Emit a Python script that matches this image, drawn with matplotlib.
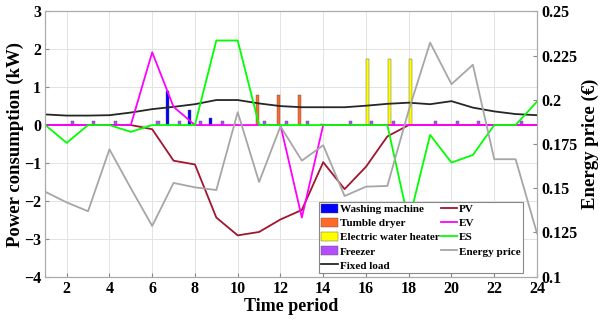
import matplotlib
matplotlib.use("Agg")
import matplotlib.pyplot as plt
import numpy as np
from matplotlib.patches import Patch
from matplotlib.lines import Line2D
from matplotlib.ticker import FuncFormatter

plt.rcParams['font.family'] = ['Liberation Serif', 'DejaVu Serif']
plt.rcParams['font.weight'] = 'bold'

hours = list(range(1, 25))

washing = [0, 0, 0, 0, 0, 0, 0.91, 0.40, 0.19, 0, 0, 0, 0, 0, 0, 0, 0, 0, 0, 0, 0, 0, 0, 0]
dryer = [0, 0, 0, 0, 0, 0, 0, 0, 0, 0.03, 0.79, 0.79, 0.79, 0.02, 0, 0, 0, 0, 0, 0, 0, 0, 0, 0]
heater = [0, 0, 0, 0, 0, 0, 0, 0, 0, 0, 0, 0, 0, 0, 0, 1.75, 1.75, 1.75, 0, 0, 0, 0, 0, 0]
freezer = [0, 0.1, 0.1, 0.1, 0, 0.1, 0.1, 0.1, 0.1, 0, 0.1, 0.1, 0.1, 0, 0.1, 0.1, 0.1, 0, 0.1, 0.1, 0.1, 0, 0.1, 0]
fixed_load = [0.28, 0.25, 0.25, 0.26, 0.33, 0.42, 0.48, 0.55, 0.66, 0.66, 0.57, 0.50,
              0.47, 0.47, 0.47, 0.51, 0.56, 0.59, 0.55, 0.63, 0.46, 0.36, 0.29, 0.26]
pv = [0, 0, 0, 0, 0, -0.11, -0.94, -1.04, -2.44, -2.91, -2.82, -2.49,
      -2.24, -0.98, -1.69, -1.10, -0.30, 0, 0, 0, 0, 0, 0, 0]
ev = [0, 0, 0, 0, 0, 1.92, 0.48, 0, 0, 0, 0, 0, -2.44, 0, 0, 0, 0, 0, 0, 0, 0, 0, 0, 0]
es = [0, -0.47, 0, 0, -0.18, 0, 0, 0, 2.23, 2.23, 0, 0, 0, 0, 0, 0, 0, -2.55,
      -0.26, -0.99, -0.79, 0, 0, 0.62]
price = [0.148, 0.142, 0.137, 0.172, 0.150, 0.1287, 0.153, 0.1505, 0.149, 0.193, 0.1535, 0.185,
         0.1656, 0.1743, 0.1456, 0.1509, 0.1513, 0.194, 0.2323, 0.2088, 0.2198, 0.1664, 0.1664, 0.1245]

c_wash = '#0000FF'
c_dry = '#FF6A2A'
c_heat = '#FFFF00'
c_frz = '#B44CFF'
c_fix = '#262626'
c_pv = '#A2142F'
c_ev = '#FF00FF'
c_es = '#00FF00'
c_price = '#A6A6A6'

fig = plt.figure(figsize=(6.0, 3.26), dpi=100)
ax = fig.add_axes([0.0755, 0.1512, 0.8195, 0.8141])

x = np.array(hours, dtype=float)
gw = 4 / 5.5
bw = 0.8 * gw / 4
offs = [(i - 1.5) * gw / 4 for i in range(4)]
ec = '#555555'
for vals, col, off in [(washing, c_wash, offs[0]), (dryer, c_dry, offs[1]),
                       (heater, c_heat, offs[2]), (freezer, c_frz, offs[3])]:
    v = np.array(vals)
    m = v != 0
    ax.bar(x[m] + off, v[m], width=bw, color=col, edgecolor=ec, linewidth=0.3, zorder=2)

ax.plot(x, fixed_load, color=c_fix, lw=1.3, zorder=3)
ax.plot(x, pv, color=c_pv, lw=1.3, zorder=3)
ax.plot(x, ev, color=c_ev, lw=1.3, zorder=3)
ax.plot(x, es, color=c_es, lw=1.3, zorder=3)

ax.set_xlim(1, 24)
ax.set_ylim(-4, 3)
ax.set_xticks(range(2, 25, 2))
ax.set_yticks(range(-4, 4))
ax.grid(True, color='#E3E3E3', lw=0.7, zorder=0)
ax.set_axisbelow(True)
ax.tick_params(direction='in', labelsize=11.5, length=3, color='#888888', pad=3)
for s in ax.spines.values():
    s.set_color('#AAAAAA')
    s.set_linewidth(0.8)
ax.set_xlabel('Time period', fontsize=13, fontweight='bold', labelpad=1)
ax.set_ylabel('Power consumption (kW)', fontsize=13.5, fontweight='bold', labelpad=0)

ax2 = ax.twinx()
ax2.plot(x, price, color=c_price, lw=1.3, zorder=3)
ax2.set_ylim(0.1, 0.25)
ax2.set_yticks([0.1, 0.125, 0.15, 0.175, 0.2, 0.225, 0.25])
ax2.yaxis.set_major_formatter(FuncFormatter(lambda v, p: '%g' % v))
ax2.tick_params(direction='in', labelsize=11.5, length=3, color='#888888', pad=3)
for s in ax2.spines.values():
    s.set_color('#AAAAAA')
    s.set_linewidth(0.8)
ax2.set_ylabel('Energy price (€)', fontsize=13.5, fontweight='bold', labelpad=3)

handles = [Patch(facecolor=c_wash, edgecolor=ec, lw=0.3, label='Washing machine'),
           Patch(facecolor=c_dry, edgecolor=ec, lw=0.3, label='Tumble dryer'),
           Patch(facecolor=c_heat, edgecolor=ec, lw=0.3, label='Electric water heater'),
           Patch(facecolor=c_frz, edgecolor=ec, lw=0.3, label='Freezer'),
           Line2D([], [], color=c_fix, lw=1.3, label='Fixed load'),
           Line2D([], [], color=c_pv, lw=1.3, label='PV'),
           Line2D([], [], color=c_ev, lw=1.3, label='EV'),
           Line2D([], [], color=c_es, lw=1.3, label='ES'),
           Line2D([], [], color=c_price, lw=1.3, label='Energy price')]
leg = ax2.legend(handles=handles, ncol=2, loc='lower right', bbox_to_anchor=(0.9735, 0.01),
                 frameon=True, fancybox=False, borderpad=0.2, labelspacing=0.33,
                 handlelength=1.5, handleheight=0.9, handletextpad=0.15, columnspacing=0.1,
                 borderaxespad=0.1, prop={'weight': 'bold', 'size': 8})
leg.get_frame().set_edgecolor('#888888')
leg.get_frame().set_linewidth(0.8)
leg.get_frame().set_alpha(1)
leg.set_zorder(10)

fig.savefig('out.png', dpi=100)
